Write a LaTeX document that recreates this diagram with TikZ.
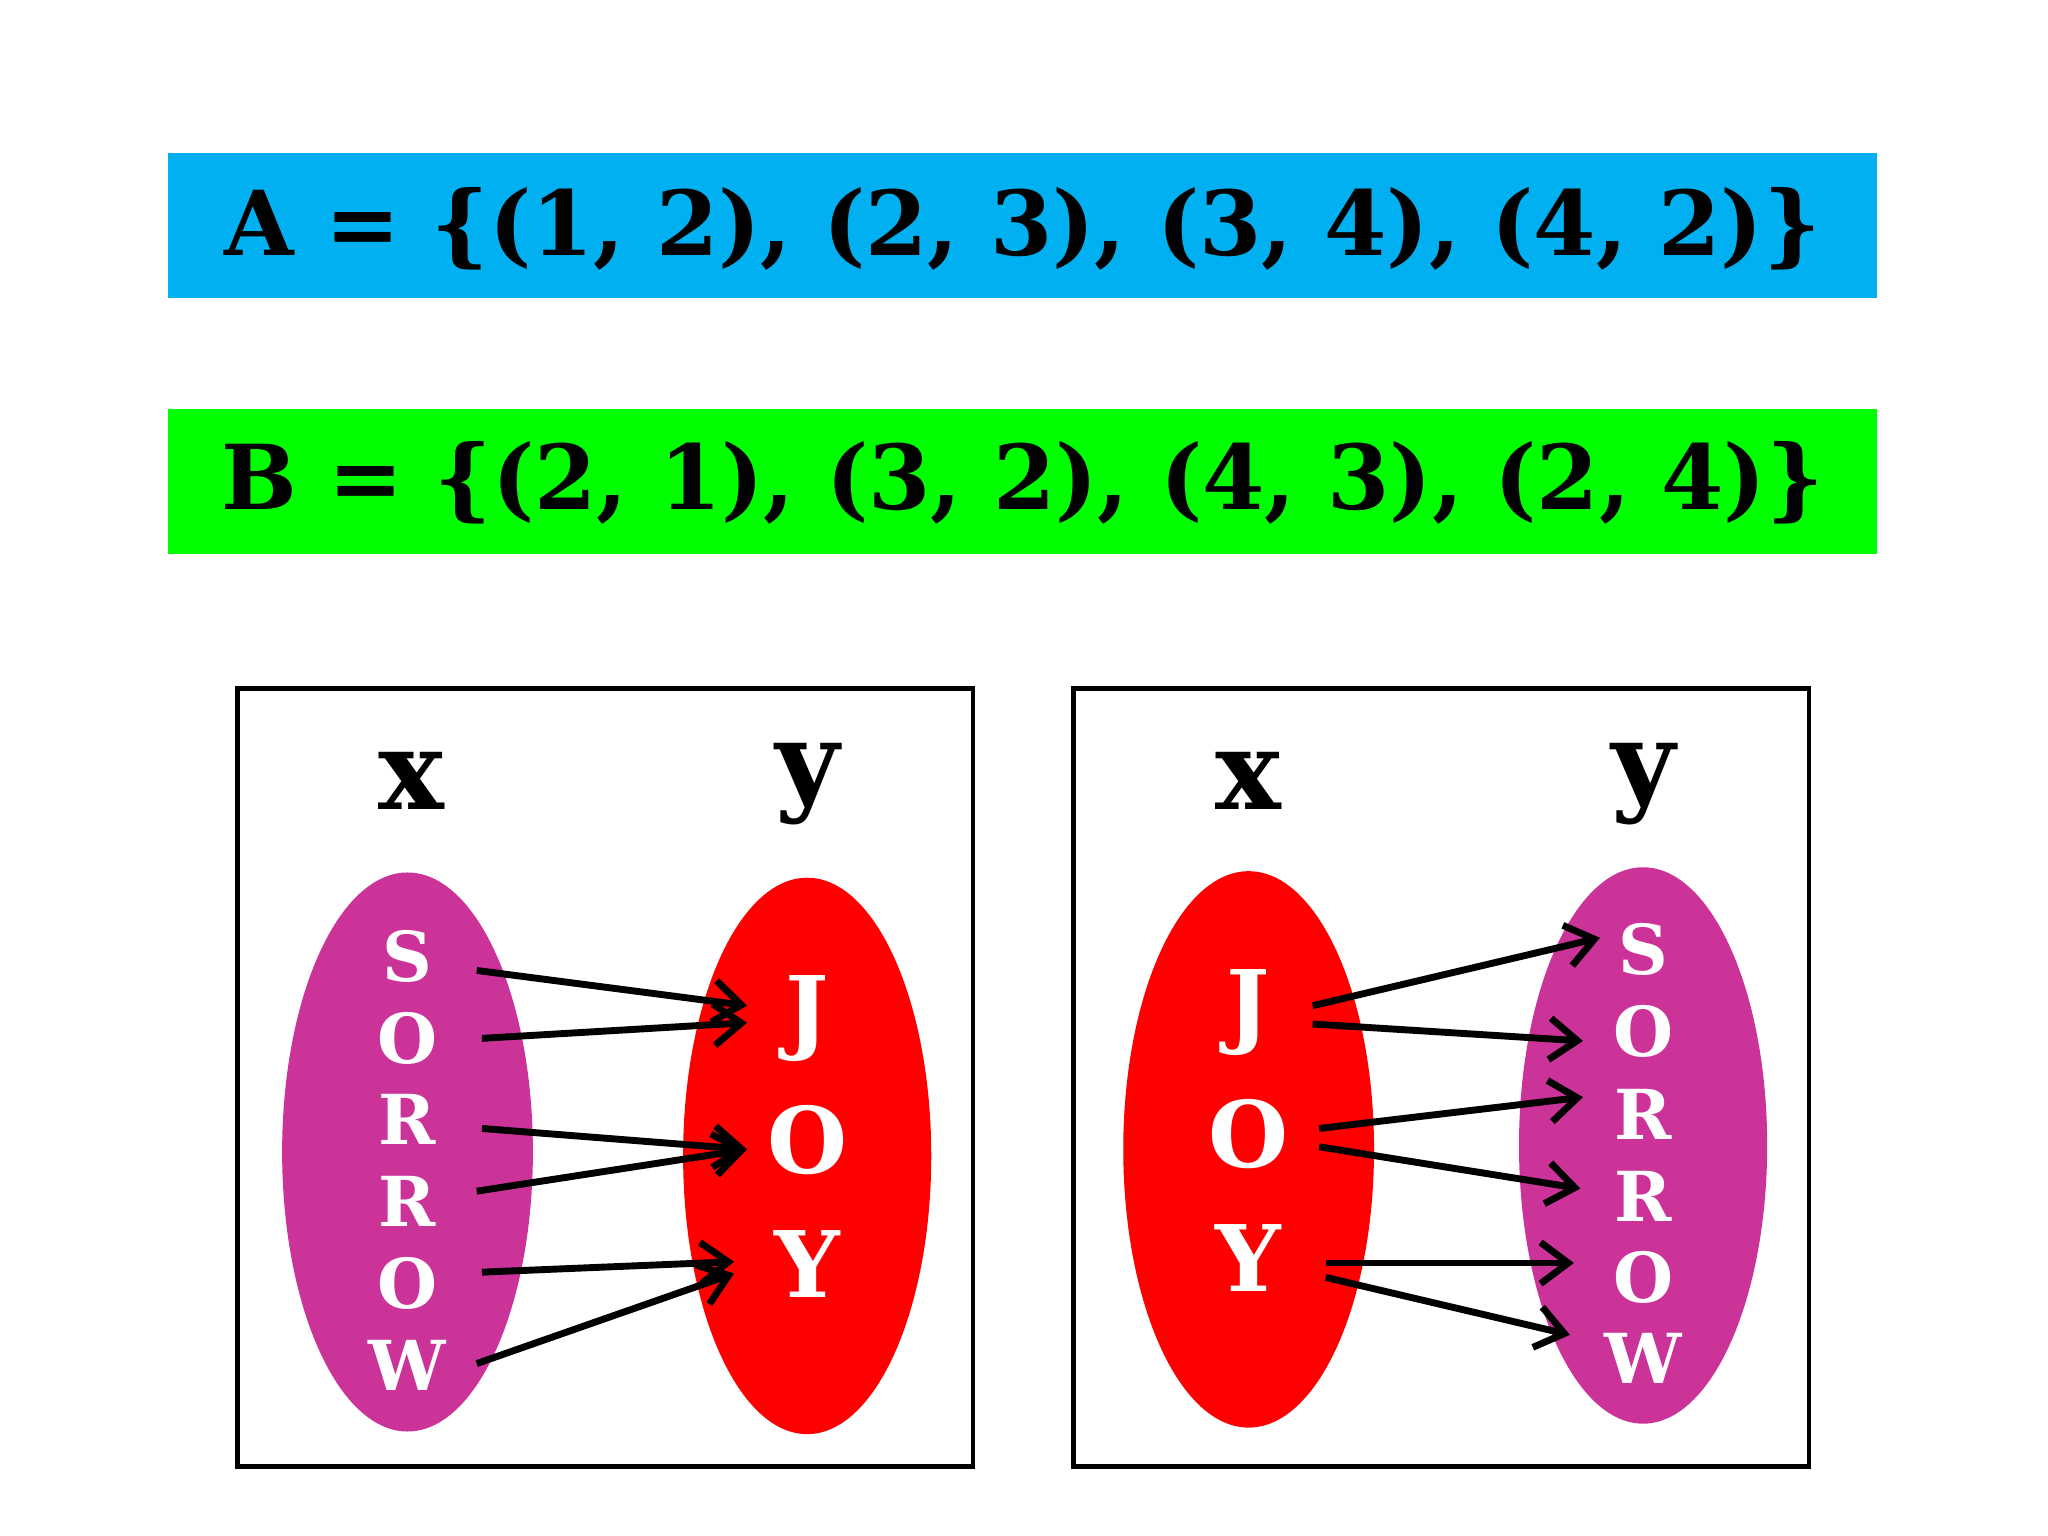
\documentclass[tikz,border=0pt]{standalone}
\usepackage{fontspec}
\setmainfont{DejaVu Serif}
\usetikzlibrary{arrows.meta}
\definecolor{barblue}{HTML}{00B0F0}
\definecolor{bargreen}{HTML}{00FF00}
\definecolor{mag}{HTML}{CC3399}
\begin{document}
\begin{tikzpicture}[x=0.01cm,y=-0.01cm,
  frame/.style={draw=black,line width=1pt},
  settext/.style={font=\bfseries\fontsize{19.5}{24}\selectfont,inner sep=0pt},
  axis/.style={font=\bfseries\fontsize{24}{28}\selectfont,inner sep=0pt},
  small/.style={text=white,font=\bfseries\fontsize{15}{18}\selectfont,inner sep=0pt},
  big/.style={text=white,font=\bfseries\fontsize{20}{24}\selectfont,inner sep=0pt},
  arr/.style={line width=1.5pt,-{Straight Barb[length=6pt,width=9pt,line width=1.5pt]}}]
\useasboundingbox (0,0) rectangle (1568,1176);
\fill[white] (0,0) rectangle (1568,1176);
\fill[barblue] (129,117) rectangle (1437,228);
\node[settext] (A) at (783,175) {A = \{(1, 2), (2, 3), (3, 4), (4, 2)\}};
\fill[bargreen] (129,313) rectangle (1437,424);
\node[settext] (B) at (783,370) {B = \{(2, 1), (3, 2), (4, 3), (2, 4)\}};
% left diagram
\draw[frame] (182,527) rectangle (745,1123);
\fill[red] (618,885) ellipse [x radius=95,y radius=213];
\fill[mag] (312,882) ellipse [x radius=96,y radius=214];
\node[axis] (lx) at (315,598) {x};
\node[axis] (ly) at (618,600) {y};
\foreach \t/\yy/\n in {S/732/s1,O/795/s2,R/857/s3,R/920/s4,O/983/s5,W/1045/s6}
  \node[small] (L\n) at (312,\yy) {\t};
\node[big] (LJ) at (618,780) {J};
\node[big] (LO) at (618,873) {O};
\node[big] (LY) at (618,968) {Y};
\coordinate (a1) at (365,743); \coordinate (b1) at (572,770);
\coordinate (a2) at (369,795); \coordinate (b2) at (572,783);
\coordinate (a3) at (369,864); \coordinate (b3) at (572,880);
\coordinate (a4) at (365,912); \coordinate (b4) at (572,880);
\coordinate (a5) at (369,974); \coordinate (b5) at (562,966);
\coordinate (a6) at (365,1044); \coordinate (b6) at (562,975);
\foreach \i in {1,...,6} \draw[arr] (a\i) -- (b\i);
% right diagram
\draw[frame] (822,527) rectangle (1385,1123);
\fill[mag] (1258,877) ellipse [x radius=95,y radius=213];
\fill[red] (956,880) ellipse [x radius=96,y radius=213];
\node[axis] (rx) at (956,598) {x};
\node[axis] (ry) at (1258,600) {y};
\foreach \t/\yy/\n in {S/727/s1,O/790/s2,R/853/s3,R/916/s4,O/978/s5,W/1040/s6}
  \node[small] (R\n) at (1258,\yy) {\t};
\node[big] (RJ) at (956,775) {J};
\node[big] (RO) at (956,868) {O};
\node[big] (RY) at (956,963) {Y};
\coordinate (c1) at (1005,770); \coordinate (d1) at (1225,718);
\coordinate (c2) at (1005,784); \coordinate (d2) at (1212,797);
\coordinate (c3) at (1010,864); \coordinate (d3) at (1212,840);
\coordinate (c4) at (1010,878); \coordinate (d4) at (1210,910);
\coordinate (c5) at (1015,967); \coordinate (d5) at (1205,967);
\coordinate (c6) at (1015,978); \coordinate (d6) at (1202,1022);
\foreach \i in {1,...,6} \draw[arr] (c\i) -- (d\i);
\end{tikzpicture}
\end{document}
